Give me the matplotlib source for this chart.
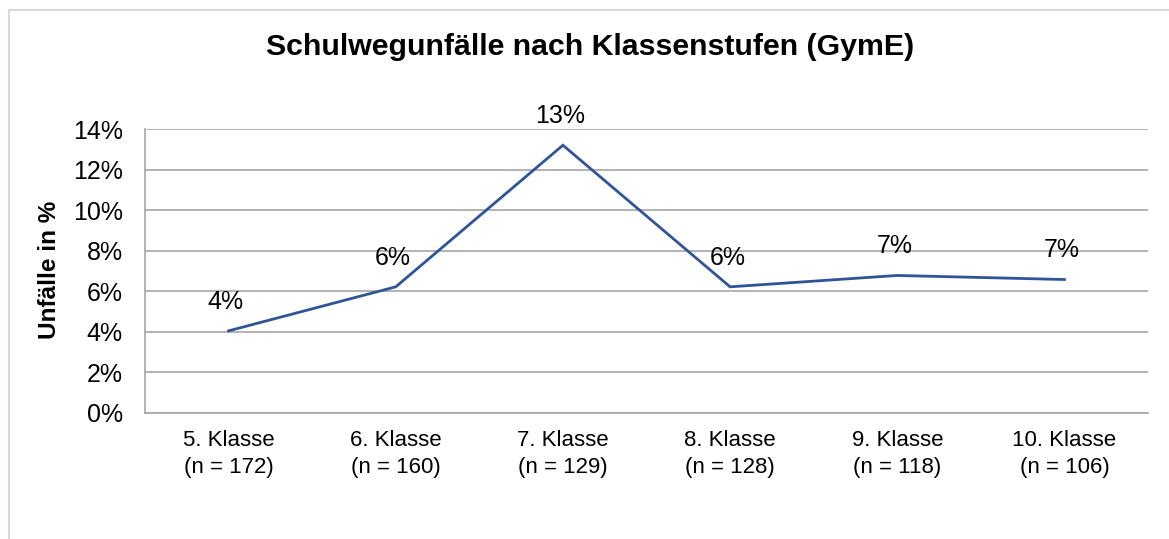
import matplotlib
matplotlib.use("Agg")
import matplotlib.pyplot as plt
from matplotlib.patches import Rectangle

categories = ["5. Klasse\n(n = 172)", "6. Klasse\n(n = 160)", "7. Klasse\n(n = 129)",
              "8. Klasse\n(n = 128)", "9. Klasse\n(n = 118)", "10. Klasse\n(n = 106)"]
values = [4.05, 6.22, 13.2, 6.22, 6.78, 6.58]
value_labels = ["4%", "6%", "13%", "6%", "7%", "7%"]
y_ticks = [0, 2, 4, 6, 8, 10, 12, 14]
y_tick_labels = ["0%", "2%", "4%", "6%", "8%", "10%", "12%", "14%"]

plt.rcParams['font.family'] = ['Liberation Sans', 'DejaVu Sans']

W, H = 1169, 539
fig = plt.figure(figsize=(W / 100, H / 100), dpi=100)
fig.patches.append(Rectangle((9 / W, -0.1), 1.2, 1 - 10 / H + 0.1, transform=fig.transFigure,
                             fill=False, edgecolor='#D9D9D9', linewidth=1.5))

ax = fig.add_axes([145 / W, 1 - 413 / H, (1148 - 145) / W, (413 - 129) / H])
x = list(range(len(categories)))
ax.plot(x, values, color='#2F5597', linewidth=2.0, solid_joinstyle='miter')
for xi, v, lab in zip(x, values, value_labels):
    ax.annotate(lab, (xi, v), xytext=(-2, 21), textcoords='offset points',
                ha='center', va='center', fontsize=18, color='#000000')

ax.set_xlim(-0.5, len(categories) - 0.5)
ax.set_ylim(0, 14)
ax.set_yticks(y_ticks)
ax.set_yticklabels(y_tick_labels, fontsize=18)
ax.set_xticks(x)
ax.set_xticklabels(categories, fontsize=16, linespacing=1.4)
ax.tick_params(axis='y', length=0, pad=16)
ax.tick_params(axis='x', length=0, pad=12)
ax.grid(axis='y', color='#A6A6A6', linewidth=1.2)
ax.set_axisbelow(True)
for s in ['right', 'top']:
    ax.spines[s].set_visible(False)
for s in ['left', 'bottom']:
    ax.spines[s].set_color('#A6A6A6')
    ax.spines[s].set_linewidth(1.2)

fig.text(50 / W, 1 - 270 / H, "Unfälle in %", rotation=90, ha='center', va='center',
         fontsize=17.5, fontweight='bold')
fig.text(590 / W, 1 - 47 / H, "Schulwegunfälle nach Klassenstufen (GymE)", ha='center', va='center',
         fontsize=21.8, fontweight='bold')

fig.savefig("out.png", dpi=100)
